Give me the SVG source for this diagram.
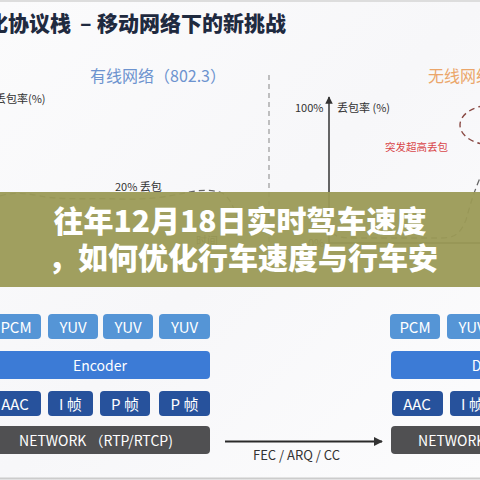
<svg xmlns="http://www.w3.org/2000/svg" width="480" height="480" viewBox="0 0 480 480">
<defs>
<style>
.cjk{font-family:"Noto Sans CJK SC","Noto Sans",sans-serif}
.box text{font-family:"Noto Sans CJK SC","Noto Sans",sans-serif;fill:#ffffff;text-anchor:middle;dominant-baseline:central}
.b1{fill:#5595d6}
.b2{fill:#3c7bd6}
.b3{fill:#27529c}
.b4{fill:#505052}
.lbl{font-family:"Noto Sans CJK SC","Noto Sans",sans-serif;font-size:11px;fill:#333333}
.dash{fill:none;stroke:#666666;stroke-width:1.3;stroke-dasharray:6 4}
</style>
<marker id="ah" viewBox="0 0 10 10" refX="9" refY="5" markerWidth="5" markerHeight="5" orient="auto">
<path d="M0,0 L10,5 L0,10 z" fill="#333333"/>
</marker>
<linearGradient id="bg" x1="0" y1="0" x2="1" y2="1">
<stop offset="0" stop-color="#fbfbfc"/>
<stop offset="0.5" stop-color="#f7f7f9"/>
<stop offset="1" stop-color="#fcfcfd"/>
</linearGradient>
</defs>
<rect x="0" y="0" width="480" height="480" fill="url(#bg)"/>
<line x1="0" y1="1" x2="480" y2="1" stroke="#dddddd" stroke-width="2"/>
<line x1="0" y1="478.5" x2="480" y2="478.5" stroke="#cccccc" stroke-width="2"/>

<g id="title" class="cjk" font-size="21" font-weight="900" fill="#1f2a3f">
<text x="-13" y="31">化协议栈</text>
<text x="80" y="31">–</text>
<text x="97" y="31">移动网络下的新挑战</text>
</g>

<g id="wired-chart">
<text class="cjk" x="90" y="82" font-size="16" fill="#6d93cf">有线网络（802.3）</text>
<text class="lbl" x="-5" y="103">丢包率(%)</text>
<text class="lbl" x="115" y="191">20% 丢包</text>
<path class="dash" d="M0,196 C15,191 30,194 45,197 C70,200 95,198 120,199 C150,200 170,196 185,193 C198,190 212,189 222,193 C232,198 236,215 242,232"/>
<text class="lbl" x="196" y="245">时间</text>
</g>

<line x1="269" y1="75" x2="269" y2="262" stroke="#999999" stroke-width="1.2" stroke-dasharray="5 4"/>

<g id="wireless-chart">
<text class="cjk" x="428" y="82" font-size="16" fill="#eba66a">无线网络</text>
<text class="lbl" x="295" y="112">100%</text>
<text class="lbl" x="337" y="112">丢包率 (%)</text>
<text class="cjk" x="385" y="151" font-size="10.5" fill="#d9474a">突发超高丢包</text>
<ellipse cx="492" cy="125" rx="32" ry="20" fill="none" stroke="#8a4a44" stroke-width="1.4" stroke-dasharray="6 4"/>
<line x1="329" y1="243" x2="329" y2="97" stroke="#333333" stroke-width="1.5" marker-end="url(#ah)"/>
<line x1="329" y1="243" x2="480" y2="243" stroke="#333333" stroke-width="1.5"/>
<path class="dash" d="M333,232 C335,238 345,238 360,238 L440,238 C455,238 460,234 466,220 C470,205 474,192 480,178"/>
<text class="lbl" x="308" y="247">0%</text>
</g>

<g id="banner">
<rect x="0" y="192" width="480" height="95" fill="#9b9a56" opacity="0.95"/>
<text class="cjk" x="240" y="232" font-size="30" font-weight="900" fill="#ffffff" text-anchor="middle">往年12月18日实时驾车速度</text>
<text class="cjk" x="243" y="269" font-size="30" font-weight="900" fill="#ffffff" text-anchor="middle">，如何优化行车速度与行车安</text>
</g>

<g id="sender">
<g id="s-pcm" class="box"><rect class="b1" x="-9" y="314" width="50" height="25" rx="4"/><text x="16" y="326.5" font-size="15">PCM</text></g>
<g id="s-yuv1" class="box"><rect class="b1" x="48" y="314" width="50" height="25" rx="4"/><text x="73" y="326.5" font-size="15">YUV</text></g>
<g id="s-yuv2" class="box"><rect class="b1" x="103" y="314" width="50" height="25" rx="4"/><text x="128" y="326.5" font-size="15">YUV</text></g>
<g id="s-yuv3" class="box"><rect class="b1" x="159" y="314" width="51" height="25" rx="4"/><text x="184.5" y="326.5" font-size="15">YUV</text></g>
<g id="s-encoder" class="box"><rect class="b2" x="-9" y="351" width="219" height="28" rx="4"/><text x="100" y="365" font-size="14">Encoder</text></g>
<g id="s-aac" class="box"><rect class="b3" x="-9" y="391" width="50" height="25" rx="4"/><text x="15" y="403.5" font-size="15">AAC</text></g>
<g id="s-i" class="box"><rect class="b3" x="48" y="391" width="45" height="25" rx="4"/><text x="70.5" y="403.5" font-size="15">I 帧</text></g>
<g id="s-p1" class="box"><rect class="b3" x="100" y="391" width="50" height="25" rx="4"/><text x="125" y="403.5" font-size="15">P 帧</text></g>
<g id="s-p2" class="box"><rect class="b3" x="159" y="391" width="51" height="25" rx="4"/><text x="184.5" y="403.5" font-size="15">P 帧</text></g>
<g id="s-network" class="box"><rect class="b4" x="-9" y="426" width="219" height="28" rx="4"/><text x="96" y="440" font-size="14">NETWORK （RTP/RTCP)</text></g>
</g>

<g id="receiver" transform="translate(399,0)">
<g id="r-pcm" class="box"><rect class="b1" x="-9" y="314" width="50" height="25" rx="4"/><text x="16" y="326.5" font-size="15">PCM</text></g>
<g id="r-yuv1" class="box"><rect class="b1" x="48" y="314" width="50" height="25" rx="4"/><text x="73" y="326.5" font-size="15">YUV</text></g>
<g id="r-decoder" class="box"><rect class="b2" x="-8" y="351" width="219" height="28" rx="4"/><text x="100" y="365" font-size="14">Decoder</text></g>
<g id="r-aac" class="box"><rect class="b3" x="-7" y="391" width="51" height="25" rx="4"/><text x="18" y="403.5" font-size="15">AAC</text></g>
<g id="r-i" class="box"><rect class="b3" x="51" y="391" width="45" height="25" rx="4"/><text x="73.5" y="403.5" font-size="15">I 帧</text></g>
<g id="r-network" class="box"><rect class="b4" x="-8" y="426" width="219" height="28" rx="4"/><text x="96" y="440" font-size="14">NETWORK （RTP/RTCP)</text></g>
</g>

<g id="connectors">
<line x1="225" y1="441.5" x2="382" y2="441.5" stroke="#2a2a2a" stroke-width="1.8" marker-end="url(#ah)"/>
<text x="253" y="460" font-family="Noto Sans CJK SC, Noto Sans, sans-serif" font-size="13" fill="#333333">FEC / ARQ / CC</text>
</g>
</svg>
